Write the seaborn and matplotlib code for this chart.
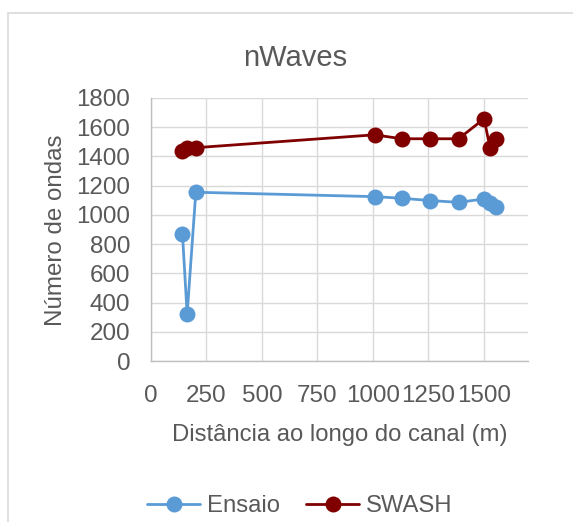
import matplotlib
matplotlib.use("Agg")
import matplotlib.pyplot as plt
from matplotlib.lines import Line2D
from matplotlib.patches import Rectangle
import seaborn as sns
import pandas as pd

# ---- data ----
distancia = [142, 163, 202, 1008, 1131, 1259, 1387, 1502, 1529, 1557]
ensaio = [867, 320, 1155, 1125, 1114, 1098, 1086, 1109, 1080, 1052]
swash = [1435, 1455, 1460, 1548, 1521, 1521, 1521, 1658, 1457, 1518]
series = ["Ensaio", "SWASH"]
x_ticks = [0, 250, 500, 750, 1000, 1250, 1500]
y_ticks = [0, 200, 400, 600, 800, 1000, 1200, 1400, 1600, 1800]
title = "nWaves"
x_label = "Distância ao longo do canal (m)"
y_label = "Número de ondas"

df = pd.DataFrame({
    "dist": distancia * 2,
    "n": ensaio + swash,
    "serie": [series[0]] * len(ensaio) + [series[1]] * len(swash),
})

sns.set_theme(style="white")
plt.rcParams["font.family"] = ["Liberation Sans", "DejaVu Sans"]

colors = {"Ensaio": "#5B9BD5", "SWASH": "#800000"}
txt = "#595959"
W, H = 573, 522
fig = plt.figure(figsize=(W / 100, H / 100), dpi=100)
fig.patch.set_facecolor("white")

ax = fig.add_axes([151 / W, 1 - 361 / H, (528 - 151) / W, (361 - 98) / H])
sns.lineplot(data=df, x="dist", y="n", hue="serie", palette=colors, sort=False,
             estimator=None, marker="o", markersize=11.5, markeredgewidth=0,
             linewidth=2.0, legend=False, ax=ax)

ax.set_xlim(0, 1700)
ax.set_ylim(0, 1800)
ax.set_xticks(x_ticks)
ax.set_yticks(y_ticks)
ax.set_xticklabels([str(t) for t in x_ticks])
ax.set_yticklabels([str(t) for t in y_ticks])
ax.grid(True, color="#d9d9d9", linewidth=1.0)
ax.set_axisbelow(True)
for s in ["top", "right"]:
    ax.spines[s].set_visible(False)
for s in ["left", "bottom"]:
    ax.spines[s].set_color("#bfbfbf")
    ax.spines[s].set_linewidth(1.0)
ax.tick_params(axis="both", length=0, labelsize=17.4, colors=txt)
ax.tick_params(axis="y", pad=15)
ax.tick_params(axis="x", pad=17)
ax.set_xlabel("")
ax.set_ylabel("")

fig.text(295 / W, 1 - 66 / H, title, ha="center", va="baseline", fontsize=21, color=txt)
fig.text(340 / W, 1 - 441 / H, x_label, ha="center", va="baseline", fontsize=17.2, color=txt)
fig.text(62 / W, 1 - 230 / H, y_label, ha="center", va="baseline", rotation=90,
         rotation_mode="anchor", fontsize=17.4, color=txt)

handles = [Line2D([0], [0], color=colors[s], marker="o", markersize=11.5,
                  markeredgewidth=0, linewidth=2.0) for s in series]
fig.legend(handles, series, loc="center", bbox_to_anchor=(300 / W, 1 - 506 / H),
           ncol=2, frameon=False, fontsize=17.2, handlelength=2.2,
           handletextpad=0.3, columnspacing=1.1, labelcolor=txt)

fig.patches.append(Rectangle((8 / W, -0.5), 2, (1 - 12.8 / H) + 0.5,
                             transform=fig.transFigure, fill=False,
                             edgecolor="#d9d9d9", linewidth=1.2))

fig.savefig("out.png", dpi=100, facecolor="white")
